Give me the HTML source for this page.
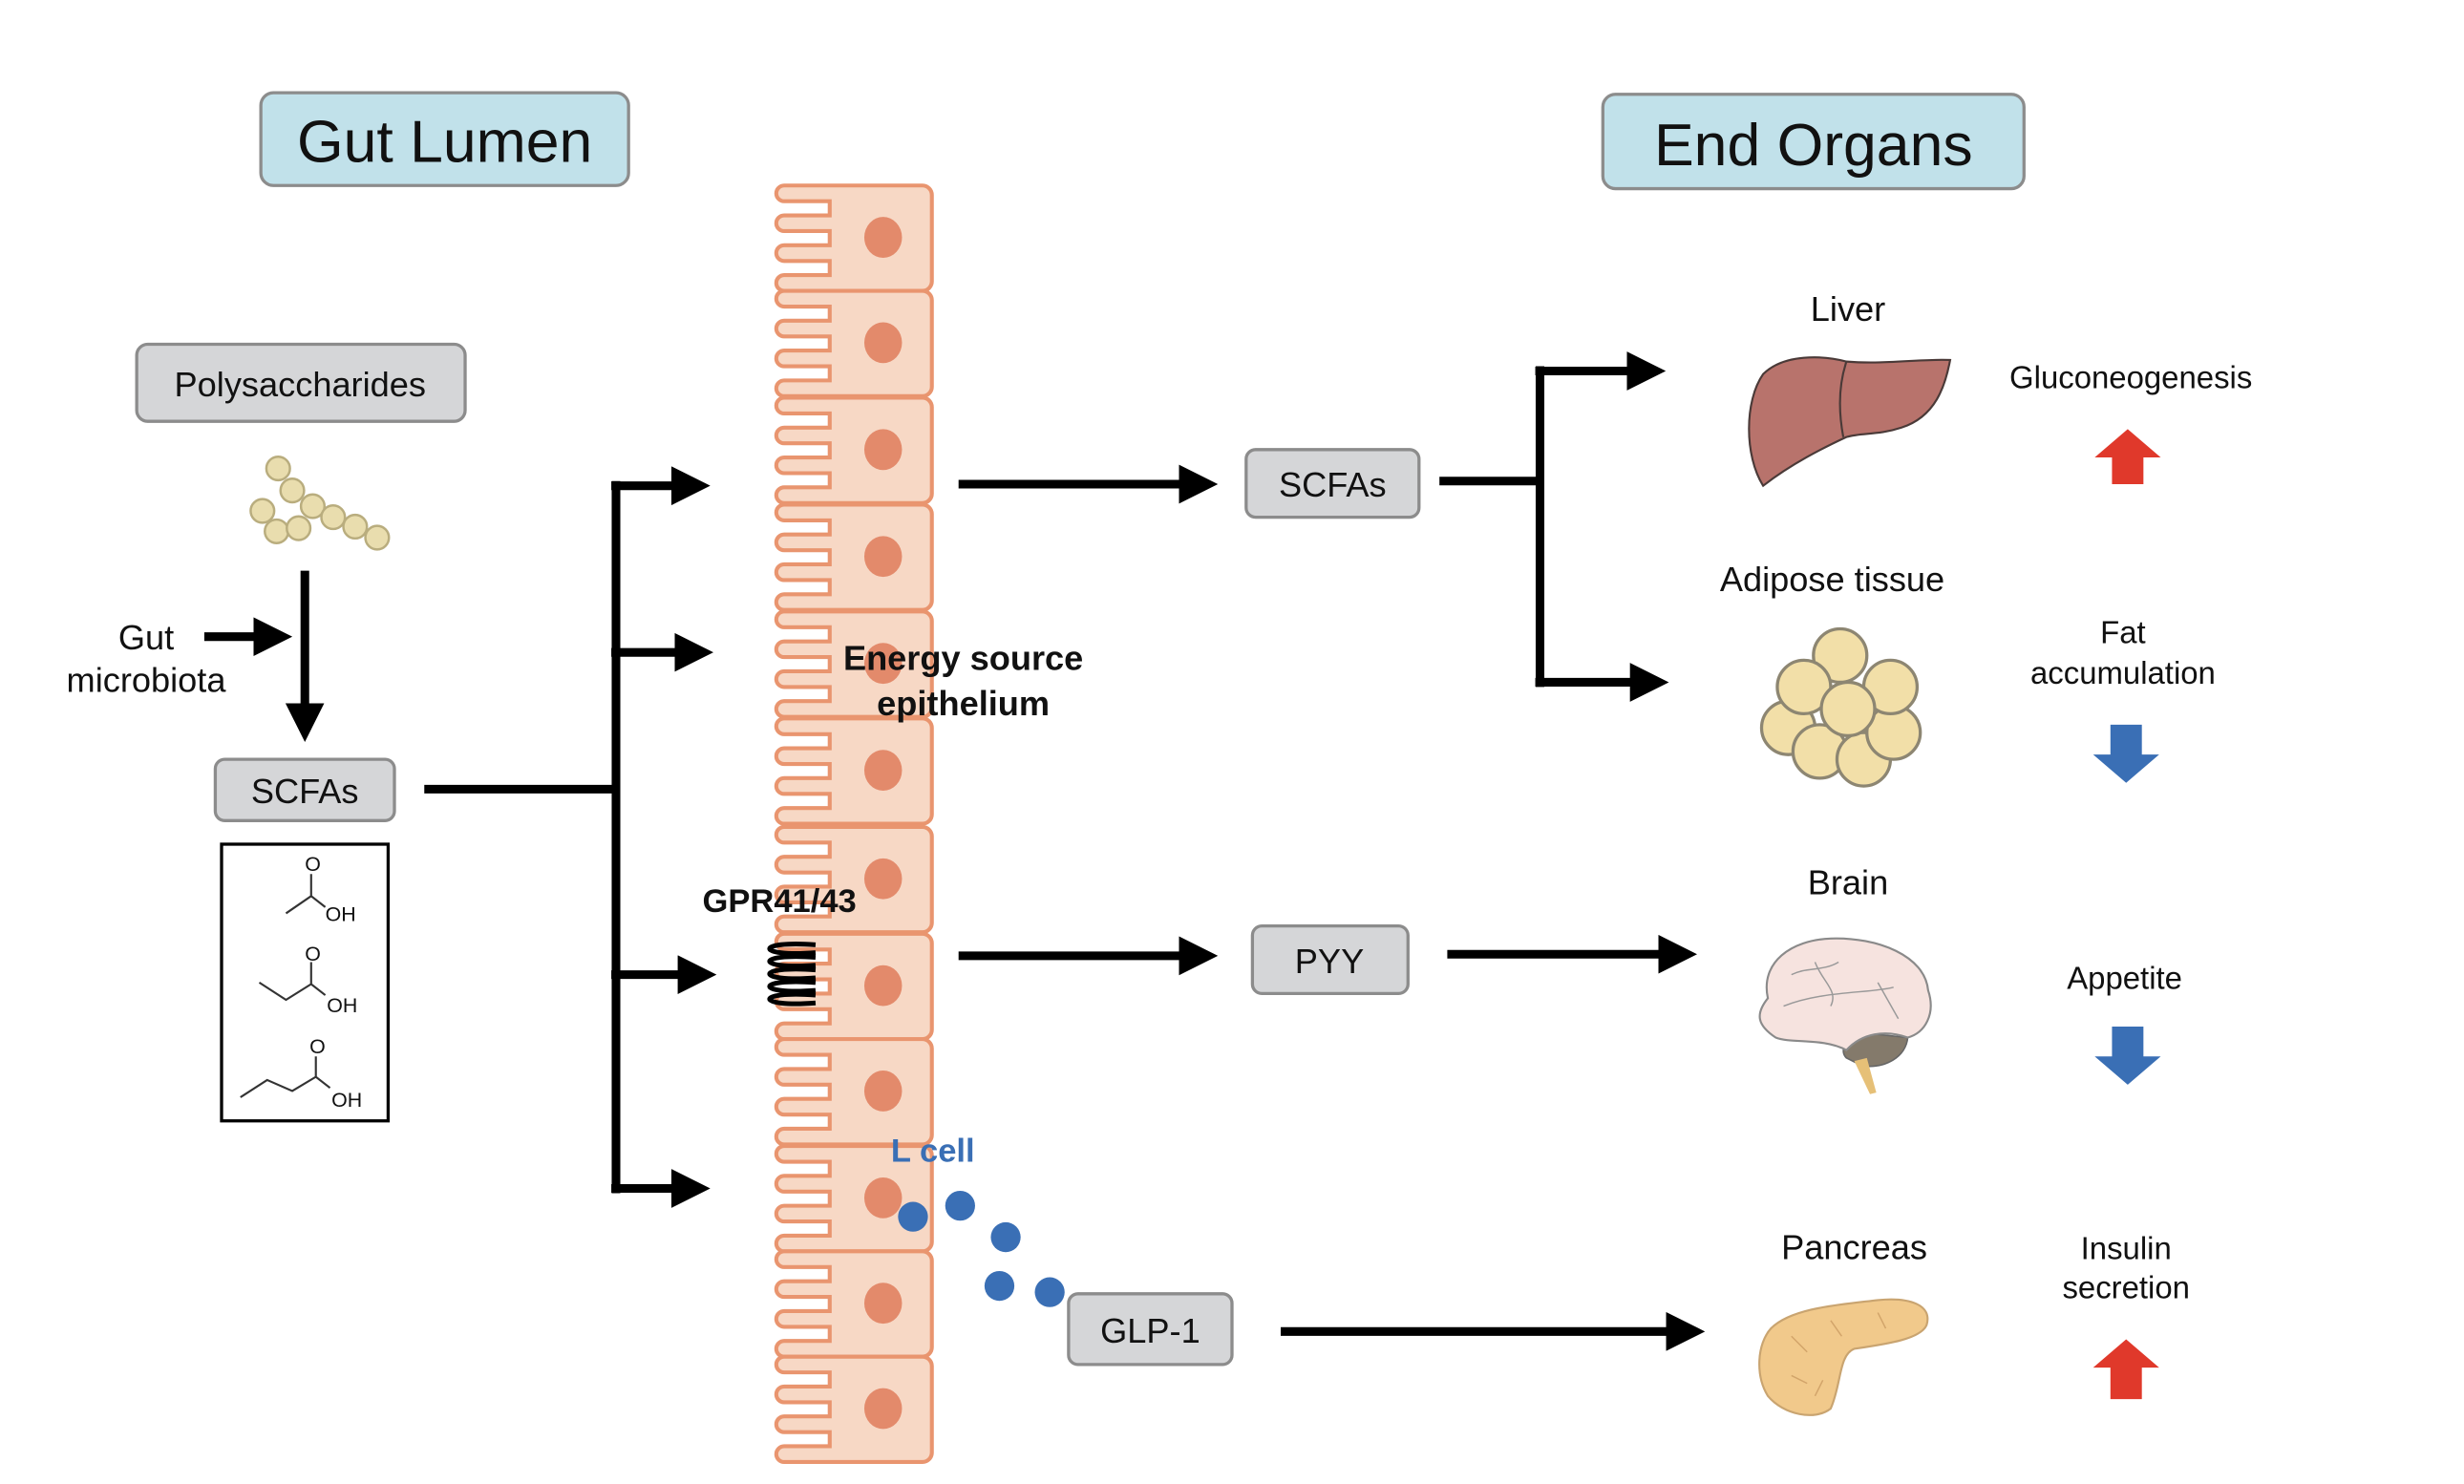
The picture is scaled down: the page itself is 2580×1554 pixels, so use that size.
<!DOCTYPE html>
<html><head><meta charset="utf-8"><style>
html,body{margin:0;padding:0;background:#fff;}
svg{display:block;}
text{font-family:"Liberation Sans",Arial,sans-serif;fill:#111;}
</style></head><body>
<svg width="2580" height="1554" viewBox="0 0 1568 944" preserveAspectRatio="none" xmlns="http://www.w3.org/2000/svg">
<defs>
<marker id="ah" markerWidth="4.5" markerHeight="4.5" refX="0.5" refY="2.25" orient="auto" markerUnits="strokeWidth">
<path d="M0,0 L4.5,2.25 L0,4.5 Z" fill="#000"/></marker>
<g id="cell">
<path d="M5 0 H93 a6 6 0 0 1 6 6 V61 a6 6 0 0 1 -6 6 H5 a5 5 0 0 1 0 -10 H34 V48 H5 a5 5 0 0 1 0 -10 H34 V29 H5 a5 5 0 0 1 0 -10 H34 V10 H5 a5 5 0 0 1 0 -10 Z" fill="#f7d8c5" stroke="#e9956f" stroke-width="2.5"/>
<ellipse cx="68" cy="33" rx="12" ry="13" fill="#e38a6b"/>
</g>
</defs>
<rect width="1568" height="944" fill="#fff"/>

<!-- headers -->
<rect x="166" y="59" width="234" height="59" rx="8" fill="#c1e1ea" stroke="#8c8c8c" stroke-width="2"/>
<text x="283" y="103" font-size="38" text-anchor="middle">Gut Lumen</text>
<rect x="1020" y="60" width="268" height="60" rx="8" fill="#c1e1ea" stroke="#8c8c8c" stroke-width="2"/>
<text x="1154" y="105" font-size="38" text-anchor="middle">End Organs</text>

<!-- left -->
<rect x="87" y="219" width="209" height="49" rx="7" fill="#d5d6d8" stroke="#8c8c8c" stroke-width="2"/>
<text x="191" y="252" font-size="22" text-anchor="middle" fill="#222">Polysaccharides</text>
<g fill="#e9ddae" stroke="#b9ad7e" stroke-width="1.5">
<circle cx="177" cy="298" r="7.5"/><circle cx="186" cy="312" r="7.5"/><circle cx="199" cy="322" r="7.5"/>
<circle cx="212" cy="329" r="7.5"/><circle cx="226" cy="335" r="7.5"/><circle cx="240" cy="342" r="7.5"/>
<circle cx="167" cy="325" r="7.5"/><circle cx="176" cy="338" r="7.5"/><circle cx="190" cy="336" r="7.5"/>
</g>
<line x1="194" y1="363" x2="194" y2="450" stroke="#000" stroke-width="5.5" marker-end="url(#ah)"/>
<line x1="130" y1="405" x2="164" y2="405" stroke="#000" stroke-width="5.5" marker-end="url(#ah)"/>
<text x="93" y="413" font-size="22" text-anchor="middle">Gut</text>
<text x="93" y="440" font-size="22" text-anchor="middle">microbiota</text>
<rect x="137" y="483" width="114" height="39" rx="6" fill="#d5d6d8" stroke="#8c8c8c" stroke-width="2"/>
<text x="194" y="511" font-size="22" text-anchor="middle" fill="#222">SCFAs</text>
<rect x="141" y="537" width="106" height="176" fill="#fff" stroke="#000" stroke-width="2"/>
<g stroke="#333" stroke-width="1.3" fill="none">
<path d="M182 581 L198 570 L207 577 M198 570 V556"/>
<path d="M165 625 L182 636 L198 626 L207 633 M198 626 V612"/>
<path d="M153 698 L170 687 L186 694 L201 685 L210 692 M201 685 V672"/>
</g>
<g font-size="13" fill="#333"><text x="194" y="554">O</text><text x="207" y="586">OH</text>
<text x="194" y="611">O</text><text x="208" y="644">OH</text>
<text x="197" y="670">O</text><text x="211" y="704">OH</text></g>

<!-- branching -->
<g stroke="#000" stroke-width="5.5" fill="none">
<line x1="270" y1="502" x2="392" y2="502"/>
<line x1="392" y1="306" x2="392" y2="759"/>
<line x1="389" y1="309" x2="430" y2="309" marker-end="url(#ah)"/>
<line x1="389" y1="415" x2="432" y2="415" marker-end="url(#ah)"/>
<line x1="389" y1="620" x2="434" y2="620" marker-end="url(#ah)"/>
<line x1="389" y1="756" x2="430" y2="756" marker-end="url(#ah)"/>
</g>

<!-- epithelium -->
<use href="#cell" x="494" y="118"/><use href="#cell" x="494" y="185"/><use href="#cell" x="494" y="253"/>
<use href="#cell" x="494" y="321"/><use href="#cell" x="494" y="389"/><use href="#cell" x="494" y="457"/>
<use href="#cell" x="494" y="526"/><use href="#cell" x="494" y="594"/><use href="#cell" x="494" y="661"/>
<use href="#cell" x="494" y="729"/><use href="#cell" x="494" y="796"/><use href="#cell" x="494" y="863"/>

<text x="613" y="426" font-size="22" font-weight="bold" text-anchor="middle">Energy source</text>
<text x="613" y="455" font-size="22" font-weight="bold" text-anchor="middle">epithelium</text>
<text x="447" y="580" font-size="21" font-weight="bold">GPR41/43</text>
<g stroke="#000" stroke-width="3" fill="none">
<path d="M519 601 C480 598 480 609 519 606 M519 609 C480 606 480 617 519 614 M519 617 C480 614 480 625 519 622 M519 625 C480 622 480 633 519 630 M519 633 C480 630 480 641 519 638"/>
</g>
<text x="567" y="739" font-size="21" font-weight="bold" fill="#3a6fb5" style="fill:#3a6fb5">L cell</text>
<g fill="#3a6fb5"><circle cx="581" cy="774" r="9.5"/><circle cx="611" cy="767" r="9.5"/><circle cx="640" cy="787" r="9.5"/><circle cx="636" cy="818" r="9.5"/><circle cx="668" cy="822" r="9.5"/></g>

<!-- middle -->
<g stroke="#000" stroke-width="5.5" fill="none">
<line x1="610" y1="308" x2="753" y2="308" marker-end="url(#ah)"/>
<line x1="916" y1="306" x2="980" y2="306"/>
<line x1="980" y1="233" x2="980" y2="437"/>
<line x1="977" y1="236" x2="1038" y2="236" marker-end="url(#ah)"/>
<line x1="977" y1="434" x2="1040" y2="434" marker-end="url(#ah)"/>
<line x1="610" y1="608" x2="753" y2="608" marker-end="url(#ah)"/>
<line x1="921" y1="607" x2="1058" y2="607" marker-end="url(#ah)"/>
<line x1="815" y1="847" x2="1063" y2="847" marker-end="url(#ah)"/>
</g>
<rect x="793" y="286" width="110" height="43" rx="6" fill="#d5d6d8" stroke="#8c8c8c" stroke-width="2"/>
<text x="848" y="316" font-size="22" text-anchor="middle" fill="#222">SCFAs</text>
<rect x="797" y="589" width="99" height="43" rx="6" fill="#d5d6d8" stroke="#8c8c8c" stroke-width="2"/>
<text x="846" y="619" font-size="22" text-anchor="middle" fill="#222">PYY</text>
<rect x="680" y="823" width="104" height="45" rx="6" fill="#d5d6d8" stroke="#8c8c8c" stroke-width="2"/>
<text x="732" y="854" font-size="22" text-anchor="middle" fill="#222">GLP-1</text>

<!-- organs labels -->
<g font-size="22" text-anchor="middle">
<text x="1176" y="204">Liver</text>
<text x="1166" y="376">Adipose tissue</text>
<text x="1176" y="569">Brain</text>
<text x="1180" y="801">Pancreas</text>
</g>
<g font-size="20" text-anchor="middle" fill="#222">
<text x="1356" y="247">Gluconeogenesis</text>
<text x="1351" y="409">Fat</text><text x="1351" y="435">accumulation</text>
<text x="1352" y="629">Appetite</text>
<text x="1353" y="801">Insulin</text><text x="1353" y="826">secretion</text>
</g>
<!-- up/down arrows -->
<path d="M1354 273 L1375 291 L1364 291 L1364 308 L1344 308 L1344 291 L1333 291 Z" fill="#e0392b"/>
<path d="M1353 498 L1374 480 L1363 480 L1363 461 L1343 461 L1343 480 L1332 480 Z" fill="#3a6fb5"/>
<path d="M1354 690 L1375 672 L1364 672 L1364 653 L1344 653 L1344 672 L1333 672 Z" fill="#3a6fb5"/>
<path d="M1353 852 L1374 870 L1363 870 L1363 890 L1343 890 L1343 870 L1332 870 Z" fill="#e0392b"/>

<!-- liver -->
<path d="M1122 309 C1110 290 1110 255 1122 238 C1135 225 1160 226 1175 230 C1200 232 1225 228 1241 229 C1238 245 1232 265 1210 272 C1195 277 1185 275 1175 278 C1160 285 1140 295 1122 309 Z" fill="#b8736c" stroke="#4a3a38" stroke-width="1.3"/>
<path d="M1175 230 C1170 245 1170 262 1173 278" fill="none" stroke="#4a3a38" stroke-width="1.3"/>
<!-- adipose -->
<g fill="#f2dfa8" stroke="#8d8672" stroke-width="2">
<circle cx="1138" cy="463" r="17"/><circle cx="1158" cy="478" r="17"/><circle cx="1186" cy="483" r="17"/><circle cx="1205" cy="466" r="17"/>
<circle cx="1171" cy="417" r="17"/><circle cx="1148" cy="437" r="17"/><circle cx="1203" cy="437" r="17"/><circle cx="1176" cy="451" r="17"/>
</g>
<!-- brain -->
<path d="M1185 678 C1200 680 1213 672 1214 660 L1185 657 C1175 660 1170 668 1175 673 Z" fill="#847a6b" stroke="#666" stroke-width="1"/>
<path d="M1180 675 L1190 696 L1194 695 L1188 673 Z" fill="#e6c077"/>
<path d="M1125 635 C1120 612 1140 598 1165 597 C1195 596 1225 608 1227 630 C1232 645 1225 657 1214 660 C1200 655 1185 657 1175 668 C1160 660 1140 664 1130 660 C1118 652 1117 645 1125 635 Z" fill="#f6e3df" stroke="#8a8a8a" stroke-width="1.3"/>
<g stroke="#999" stroke-width="0.9" fill="none"><path d="M1135 640 C1160 630 1190 632 1205 628"/><path d="M1155 612 C1160 625 1170 630 1165 640"/><path d="M1195 625 L1208 648"/><path d="M1140 620 C1150 615 1160 618 1170 612"/></g>
<!-- pancreas -->
<path d="M1127 845 C1140 832 1170 830 1195 827 C1215 825 1230 830 1226 843 C1222 852 1200 855 1180 858 C1170 862 1172 880 1165 896 C1155 904 1135 900 1125 888 C1117 875 1118 855 1127 845 Z" fill="#f1c98b" stroke="#c9a470" stroke-width="1.3"/>
<g stroke="#d2a46a" stroke-width="0.9" fill="none"><path d="M1140 850 L1150 860 M1165 840 L1172 850 M1195 835 L1200 845 M1140 875 L1150 880 M1155 888 L1160 878"/></g>
</svg>
</body></html>
